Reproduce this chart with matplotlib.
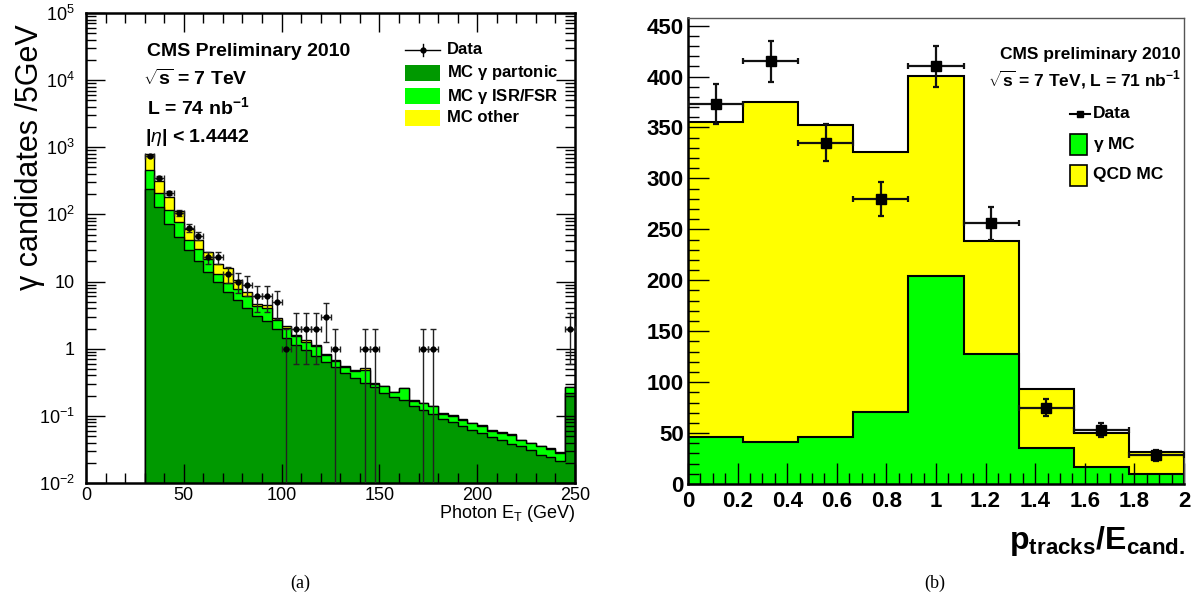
import numpy as np
import matplotlib.pyplot as plt
from matplotlib.patches import Rectangle
from matplotlib.lines import Line2D
from matplotlib.ticker import MultipleLocator, LogLocator, FuncFormatter, NullFormatter

plt.rcParams['font.family'] = ['Liberation Sans', 'DejaVu Sans']
plt.rcParams['mathtext.fontset'] = 'custom'
plt.rcParams['mathtext.rm'] = 'Liberation Sans'
plt.rcParams['mathtext.it'] = 'Liberation Sans:italic'
plt.rcParams['mathtext.bf'] = 'Liberation Sans:bold'

# ---- (a) photon ET, bins of 5 GeV from 30 to 250 ----
et_lo = 30
et_hi = 250
et_w = 5
mc_partonic = [236, 130, 73, 46, 30, 20, 13.8, 9.8, 7.0, 5.4, 4.0, 3.1, 2.6, 2.0, 1.44, 1.15,
               0.97, 0.79, 0.63, 0.54, 0.44, 0.37, 0.31, 0.265, 0.22, 0.188, 0.173, 0.141,
               0.123, 0.107, 0.090, 0.080, 0.071, 0.062, 0.055, 0.049, 0.043, 0.038, 0.035,
               0.031, 0.026, 0.024, 0.021, 0.218]
mc_isrfsr = [218, 76, 44, 32, 11, 11, 8.2, 3.2, 2.6, 2.4, 2.0, 1.2, 1.4, 0.7, 0.59, 0.41,
             0.31, 0.29, 0.18, 0.12, 0.10, 0.09, 0.18, 0.035, 0.06, 0.04, 0.086, 0.028,
             0.032, 0.031, 0.017, 0.018, 0.015, 0.016, 0.016, 0.011, 0.012, 0.014, 0.008,
             0.008, 0.009, 0.008, 0.007, 0.047]
mc_other = [340, 112, 67, 33, 20, 10, 6, 5, 6.4, 2.7, 0.9, 0.4, 0.5, 0.17, 0.12, 0.05,
            0.08, 0.06, 0.02, 0.03, 0.01, 0.02, 0.02, 0.004, 0.003, 0.002, 0.003, 0.002,
            0.002, 0.002, 0.002, 0.004, 0.003, 0.001, 0.003, 0.002, 0.003, 0.001, 0.001,
            0.001, 0.001, 0.001, 0.001, 0.002]
data_a = [745, 350, 210, 105, 63, 48, 23, 23, 13, 10, 9, 6, 6, 5, 1, 2, 2, 2, 3, 1, 0, 0,
          1, 1, 0, 0, 0, 0, 1, 1, 0, 0, 0, 0, 0, 0, 0, 0, 0, 0, 0, 0, 0, 2]
err_a = [27.3, 18.7, 14.5, 10.2, 7.9, 6.9, 4.8, 4.8, 3.6, 3.2, 3.0, 2.45, 2.45, 2.24, 1, 1.41,
         1.41, 1.41, 1.73, 1, 0, 0, 1, 1, 0, 0, 0, 0, 1, 1, 0, 0, 0, 0, 0, 0, 0, 0, 0, 0,
         0, 0, 0, 1.41]

# ---- (b) p_tracks / E_cand, 9 bins from 0 to 2 ----
nb_b = 9
mc_gamma = [46, 41, 46, 71, 204, 127.5, 35, 17, 10]
mc_qcd = [309, 334, 306, 255, 197, 111.5, 58.5, 33, 21]
data_b = [373, 415, 335, 280, 410, 256, 75, 53, 28]
err_b = [19.3, 20.4, 18.3, 16.7, 20.2, 16.0, 8.7, 7.3, 5.3]

W, H = 1198, 603
fig = plt.figure(figsize=(W / 100, H / 100), dpi=100)

def box(px0, py_top, px1, py_bot):
    return [px0 / W, 1 - py_bot / H, (px1 - px0) / W, (py_bot - py_top) / H]

dkgreen = '#009900'
ltgreen = '#00ff00'
yel = '#ffff00'

# ================= panel (a) =================
ax = fig.add_axes(box(86, 13, 575, 483))
edges = np.arange(et_lo, et_hi + et_w, et_w)
p = np.array(mc_partonic)
l = p + np.array(mc_isrfsr)
t = l + np.array(mc_other)
ax.stairs(t, edges, baseline=1e-4, fill=True, facecolor=yel, edgecolor='k', lw=1)
ax.stairs(l, edges, baseline=1e-4, fill=True, facecolor=ltgreen, edgecolor='k', lw=1)
ax.stairs(p, edges, baseline=1e-4, fill=True, facecolor=dkgreen, edgecolor='k', lw=1)

d = np.array(data_a, float)
e = np.array(err_a, float)
c = edges[:-1] + et_w / 2
m = d > 0
lo = np.minimum(e, d - 1e-3)
ax.errorbar(c[m], d[m], yerr=[lo[m], e[m]], xerr=et_w / 2, fmt='o', ms=3.5, color='k',
            ecolor='#222222', elinewidth=1, capsize=2, capthick=1, zorder=5)

ax.set_yscale('log')
ax.set_ylim(1e-2, 1e5)
ax.set_xlim(0, 250)
ax.yaxis.set_major_locator(LogLocator(base=10, numticks=10))
ax.yaxis.set_minor_locator(LogLocator(base=10, subs=np.arange(2, 10), numticks=20))
ax.yaxis.set_minor_formatter(NullFormatter())

def logfmt(v, pos):
    k = int(round(np.log10(v)))
    if k == 0:
        return '1'
    if k == 1:
        return '10'
    return '$10^{%d}$' % k

ax.yaxis.set_major_formatter(FuncFormatter(logfmt))
ax.xaxis.set_major_locator(MultipleLocator(50))
ax.xaxis.set_minor_locator(MultipleLocator(10))
ax.tick_params(which='both', direction='in', top=True, right=True, labelsize=13, width=1)
ax.tick_params(which='major', length=14)
ax.tick_params(which='minor', length=7)
ax.tick_params(axis='y', pad=8)
ax.tick_params(axis='x', pad=3)
for s in ax.spines.values():
    s.set_linewidth(1.8)

fig.text(30 / W, 1 - 157 / H, 'γ candidates /5GeV', rotation=90, ha='center', va='center',
         fontsize=22)
fig.text(575 / W, 1 - 514 / H, 'Photon E$_{\\mathrm{T}}$ (GeV)', ha='right', va='center',
         fontsize=13)

def fa(px, py):
    return ((px - 86) / 489, (483 - py) / 470)

tx = dict(transform=ax.transAxes, fontweight='bold', fontsize=14, va='center', ha='left')
ax.text(*fa(147, 52), 'CMS Preliminary 2010', **tx)
ax.text(*fa(143, 79), r'$\sqrt{\mathbf{s}}$ = 7 TeV', **tx)
ax.text(*fa(147, 107), r'L = 74 nb$^{\mathbf{-1}}$', **tx)
ax.text(*fa(145, 138), r'|$\eta$| < 1.4442', **tx)

# legend (a)
lx0, lx1 = fa(405, 0)[0], fa(440, 0)[0]
bh = 16 / 470
rows = [50, 73, 96, 118]
yc = fa(0, rows[0])[1]
ax.add_line(Line2D([lx0, lx1], [yc, yc], transform=ax.transAxes, color='k', lw=1))
ax.add_line(Line2D([(lx0 + lx1) / 2] * 2, [yc - 0.012, yc + 0.012], transform=ax.transAxes,
                   color='k', lw=1))
ax.plot([(lx0 + lx1) / 2], [yc], 'o', ms=3.5, color='k', transform=ax.transAxes)
for py, col in zip(rows[1:], [dkgreen, ltgreen, yel]):
    y = fa(0, py)[1]
    ax.add_patch(Rectangle((lx0, y - bh / 2), lx1 - lx0, bh, transform=ax.transAxes,
                           facecolor=col, edgecolor='none'))
labs = ['Data', r'MC $\mathbf{\gamma}$ partonic', r'MC $\mathbf{\gamma}$ ISR/FSR', 'MC other']
for py, s in zip(rows, labs):
    ax.text(fa(447, 0)[0], fa(0, py)[1], s, transform=ax.transAxes, fontweight='bold',
            fontsize=12, va='center', ha='left')

# ================= panel (b) =================
bx = fig.add_axes(box(688, 18, 1184, 484))
eb = np.linspace(0, 2, nb_b + 1)
g = np.array(mc_gamma)
tq = g + np.array(mc_qcd)
bx.stairs(tq, eb, baseline=0, fill=True, facecolor=yel, edgecolor='k', lw=1.5)
bx.stairs(g, eb, baseline=0, fill=True, facecolor=ltgreen, edgecolor='k', lw=1.5)
cb = (eb[:-1] + eb[1:]) / 2
bx.errorbar(cb, data_b, yerr=err_b, xerr=(eb[1] - eb[0]) / 2, fmt='s', ms=6.5, color='k',
            ecolor='#111111', elinewidth=1.6, capsize=2.5, capthick=1.6, zorder=5)
bx.set_xlim(0, 2)
bx.set_ylim(0, 457.5)
bx.xaxis.set_major_locator(MultipleLocator(0.2))
bx.xaxis.set_minor_locator(MultipleLocator(0.05))
bx.yaxis.set_major_locator(MultipleLocator(50))
bx.yaxis.set_minor_locator(MultipleLocator(10))
bx.xaxis.set_major_formatter(FuncFormatter(lambda v, pos: '%g' % round(v, 2)))
bx.tick_params(which='both', direction='in', labelsize=16, width=1)
bx.tick_params(which='major', length=15)
bx.tick_params(which='minor', length=8)
bx.tick_params(axis='y', pad=3)
bx.tick_params(axis='x', pad=5)
for lab in bx.get_xticklabels() + bx.get_yticklabels():
    lab.set_fontweight('bold')
for k in ['left', 'bottom']:
    bx.spines[k].set_linewidth(1.8)
for k in ['top', 'right']:
    bx.spines[k].set_linewidth(1)
    bx.spines[k].set_color('#555555')

def fb(px, py):
    return ((px - 688) / 496, (484 - py) / 466)

bx.text(*fb(1181, 54), 'CMS preliminary 2010', transform=bx.transAxes, fontweight='bold',
        fontsize=12.5, ha='right', va='center')
bx.text(*fb(1181, 80), r'$\sqrt{\mathbf{s}}$ = 7 TeV, L = 71 nb$^{\mathbf{-1}}$',
        transform=bx.transAxes, fontweight='bold', fontsize=12.5, ha='right', va='center')

rx0, rx1 = fb(1070, 0)[0], fb(1087, 0)[0]
yd = fb(0, 114)[1]
bx.add_line(Line2D([fb(1070, 0)[0], fb(1090, 0)[0]], [yd, yd], transform=bx.transAxes,
                   color='k', lw=1.5))
bx.plot([fb(1080, 0)[0]], [yd], 's', ms=5, color='k', transform=bx.transAxes)
bh2 = 21 / 466
for py, col in zip([144, 175], [ltgreen, yel]):
    y = fb(0, py)[1]
    bx.add_patch(Rectangle((rx0, y - bh2 / 2), rx1 - rx0, bh2, transform=bx.transAxes,
                           facecolor=col, edgecolor='k', lw=1.2))
for py, s in zip([114, 144, 175], ['Data', r'$\mathbf{\gamma}$ MC', 'QCD MC']):
    bx.text(fb(1093, 0)[0], fb(0, py)[1], s, transform=bx.transAxes, fontweight='bold',
            fontsize=12.5, ha='left', va='center')

fig.text(1185 / W, 1 - 541 / H, r'$\mathbf{p_{tracks}/E_{cand.}}$', ha='right', va='center',
         fontsize=23)

fig.text(300 / W, 1 - 583 / H, '(a)', family='Liberation Serif', fontsize=13, ha='center',
         va='center')
fig.text(935 / W, 1 - 583 / H, '(b)', family='Liberation Serif', fontsize=13, ha='center',
         va='center')

fig.savefig('out.png', dpi=100)
plt.close(fig)
